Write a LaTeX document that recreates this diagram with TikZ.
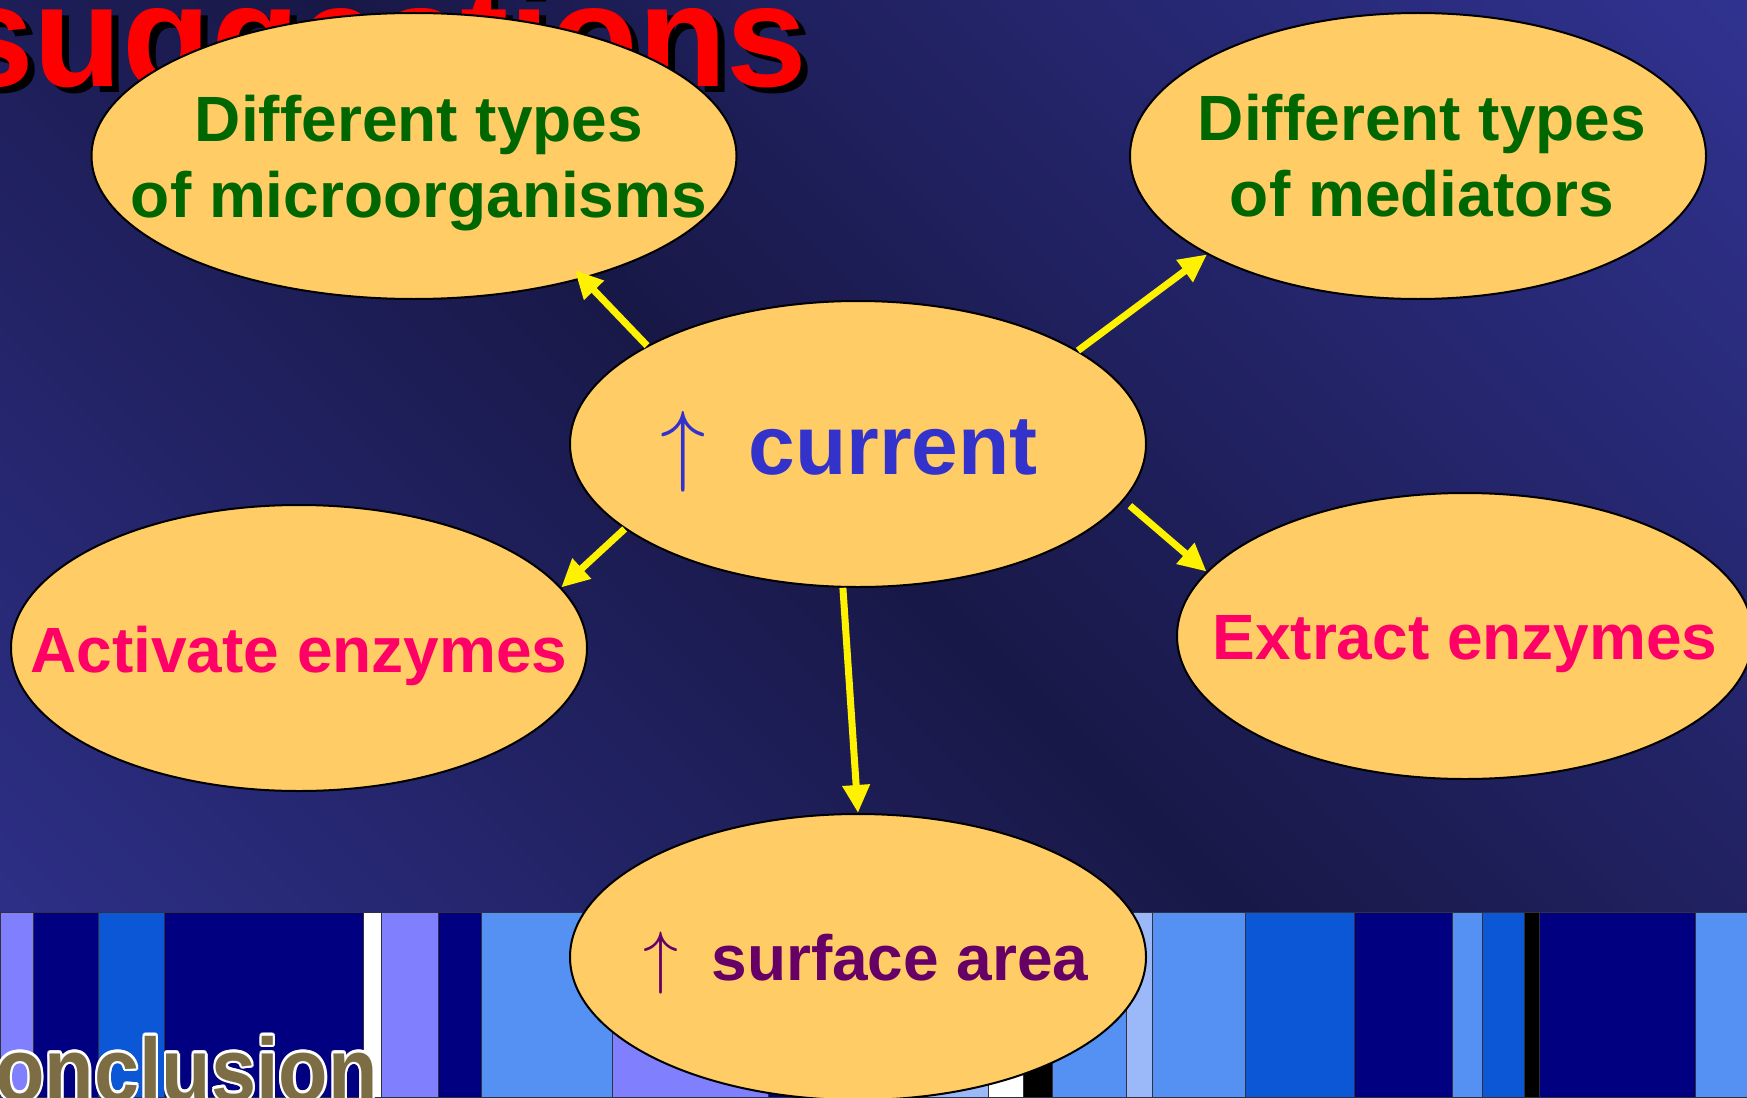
\documentclass[tikz,border=0pt]{standalone}
\usepackage{fontspec}
\setmainfont{Liberation Sans}
\usepackage{graphicx}
\usepackage{contour}
\usetikzlibrary{arrows.meta,shapes.geometric}

\definecolor{bgdark}{HTML}{181847}
\definecolor{bglight}{HTML}{30328F}
\definecolor{bubblefill}{HTML}{FFCC66}
\definecolor{microgreen}{HTML}{006600}
\definecolor{enzymepink}{HTML}{FF0066}
\definecolor{currentblue}{HTML}{3333CC}
\definecolor{areapurple}{HTML}{660066}
\definecolor{lilac}{HTML}{8080FF}
\definecolor{deepnavy}{HTML}{000080}
\definecolor{royal}{HTML}{0B57D6}
\definecolor{cornflower}{HTML}{5591F2}
\definecolor{paleblue}{HTML}{9BB9F8}
\definecolor{stripeedge}{HTML}{303040}
\definecolor{conclbrown}{HTML}{7D6D45}

\pgfdeclareverticalshading{bgdiag}{100bp}{color(0bp)=(bglight); color(15bp)=(bglight); color(50bp)=(bgdark); color(85bp)=(bglight); color(100bp)=(bglight)}
\contourlength{2.5pt}
\contournumber{12}

\begin{document}
\begin{tikzpicture}[
    x=1pt, y=-1pt,
    bubble/.style={draw=black, line width=2pt, fill=bubblefill, ellipse, inner sep=0pt, minimum width=576pt, minimum height=286pt},
    greenlbl/.style={text=microgreen, font=\fontsize{64}{76}\selectfont\bfseries, align=center},
    pinklbl/.style={text=enzymepink, font=\fontsize{64}{76}\selectfont\bfseries},
    currentlbl/.style={text=currentblue, font=\fontsize{84}{90}\selectfont\bfseries},
    arealbl/.style={text=areapurple, font=\fontsize{64}{76}\selectfont\bfseries},
    titlelbl/.style={font=\fontsize{145}{145}\selectfont\bfseries, inner sep=0pt, anchor=base west},
    conclbl/.style={text=conclbrown, font=\fontsize{90}{90}\selectfont\bfseries, inner sep=0pt, anchor=base east},
    stripe/.style={draw=stripeedge, line width=0.8pt},
    link/.style={-{Triangle[length=28pt,width=26pt]}, line width=7pt, draw=yellow, fill=yellow},
]
    \useasboundingbox (0,0) rectangle (1747,1097);
    \shade[shading=bgdiag, shading angle=-45] (0,0) rectangle (1747,1097);

    \foreach \xa/\xb/\col in {0/33/lilac, 33/98/deepnavy, 98/164/royal, 164/363/deepnavy,
        363/381/white, 381/438/lilac, 438/481/deepnavy, 481/612/cornflower, 612/768/lilac,
        768/900/deepnavy, 900/988/paleblue, 988/1023/white, 1023/1052/black,
        1052/1126/cornflower, 1126/1152/paleblue, 1152/1245/cornflower, 1245/1354/royal,
        1354/1452/deepnavy, 1452/1482/cornflower, 1482/1524/royal, 1524/1539/black,
        1539/1695/deepnavy, 1695/1747/cornflower}
        \filldraw[stripe, fill=\col] (\xa,912) rectangle (\xb,1097);

    \node[conclbl] (conclusion) at (378,1101) {\scalebox{0.9}[1]{\contour{white}{Conclusion}}};

    \node[titlelbl, text=black] (titleshadow) at (-40,93) {suggestions};
    \node[titlelbl, text=red] (title) at (-47,87) {suggestions};

    \node[bubble, minimum width=645pt,
        label={[greenlbl, xshift=5pt, yshift=-7pt]center:Different types\\of microorganisms}] (micro) at (414,156) {};
    \node[bubble,
        label={[greenlbl, xshift=4pt]center:Different types\\of mediators}] (mediators) at (1418,156) {};
    \node[bubble,
        label={[currentlbl, xshift=-9pt, yshift=-8pt]center:\scalebox{9.1}{\normalsize$\uparrow$}\hspace{43pt}current}] (current) at (858,444) {};
    \node[bubble,
        label={[pinklbl, yshift=-8pt]center:Activate enzymes}] (activate) at (299,648) {};
    \node[bubble,
        label={[pinklbl, yshift=-8pt]center:Extract enzymes}] (extract) at (1465,636) {};
    \node[bubble,
        label={[arealbl, xshift=8pt, yshift=-6pt]center:\scalebox{7}{\normalsize$\uparrow$}\hspace{33pt}surface area}] (surface) at (858,957) {};

    \draw[link, shorten >=-12pt] (current.155) -- (micro.-36);
    \draw[link] (current.23) -- (mediators.-155);
    \draw[link] (current.200) -- (activate.13);
    \draw[link, shorten <=8pt] (current.-12) -- (extract.166);
    \draw[link] (current.-96) -- (surface.90);
\end{tikzpicture}
\end{document}
